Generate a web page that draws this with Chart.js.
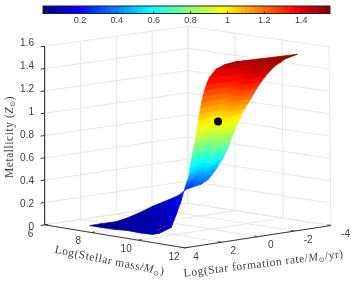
<!DOCTYPE html>
<html>
<head>
<meta charset="utf-8">
<title>Metallicity surface</title>
<script src="https://cdn.jsdelivr.net/npm/chart.js@4"></script>
<style>
    html, body { margin: 0; padding: 0; background: #fff; }
    #wrap { position: relative; width: 355px; height: 281px; overflow: hidden; }
    canvas { position: absolute; left: 0; top: 0; }
</style>
</head>
<body>
<div id="wrap">
    <canvas id="surfaceChart" width="355" height="281"></canvas>
    <canvas id="colorbar" width="355" height="30"></canvas>
</div>
<script>
// axis ticks
const massTicks = [6, 8, 10, 12];
const sfrTicks = [4, 2, 0, -2, -4];
const zTicks = [0, 0.2, 0.4, 0.6, 0.8, 1, 1.2, 1.4, 1.6];
const colorTicks = [0.2, 0.4, 0.6, 0.8, 1, 1.2, 1.4];
const colorMax = 1.556;

// surface: one row per metallicity level, two edges
const zLevels = [0.02, 0.03, 0.04, 0.05, 0.06, 0.07, 0.09, 0.12, 0.16, 0.20, 0.25, 0.30, 0.35, 0.40, 0.45, 0.50, 0.55, 0.60, 0.65, 0.70, 0.75, 0.80, 0.85, 0.90, 0.95, 1.00, 1.05, 1.10, 1.15, 1.20, 1.25, 1.30, 1.35, 1.40, 1.45, 1.48, 1.50, 1.54];
const edgeAMass = [7.33, 7.99, 8.70, 9.23, 9.97, 10.58, 10.89, 10.80, 9.79, 8.90, 8.02, 8.40, 8.78, 9.17, 9.55, 9.93, 10.30, 10.41, 10.53, 10.65, 10.76, 10.88, 11.00, 11.12, 11.11, 11.09, 10.95, 10.93, 10.92, 10.91, 10.90, 10.90, 10.91, 10.80, 10.51, 10.49, 10.62, 11.46];
const edgeASfr = [3.22, 3.43, 3.56, 3.60, 3.86, 3.96, 3.99, 3.21, 1.63, 0.24, -1.12, -0.67, -0.23, 0.22, 0.66, 1.11, 1.57, 1.68, 1.78, 1.88, 1.98, 2.08, 2.18, 2.28, 2.21, 2.14, 1.90, 1.82, 1.75, 1.68, 1.59, 1.51, 1.41, 1.11, 0.36, -0.16, -0.59, -2.95];
const edgeBMass = [7.33, 7.46, 7.65, 7.52, 7.20, 6.76, 6.65, 6.68, 7.15, 7.49, 7.91, 8.22, 8.46, 8.52, 8.57, 8.73, 8.89, 9.16, 9.43, 9.57, 9.70, 9.84, 9.98, 10.01, 9.90, 10.04, 10.20, 10.36, 10.52, 10.68, 10.83, 10.88, 11.06, 11.24, 11.21, 11.26, 11.25, 11.46];
const edgeBSfr = [3.22, 2.75, 2.18, 1.36, 0.25, -1.03, -1.83, -2.43, -1.98, -1.71, -1.32, -1.83, -1.90, -2.08, -2.24, -2.19, -2.15, -1.90, -1.66, -1.59, -1.51, -1.44, -1.37, -1.49, -1.79, -1.72, -1.68, -1.63, -1.59, -1.54, -1.50, -1.65, -1.63, -1.62, -2.03, -2.29, -2.52, -2.95];

// black marker and the small red streak on the floor
const markerPoint = { mass: 9.51, sfr: -1.06, z: 0.92 };
const streakMass = [10.59, 10.15];
const streakSfr = [3.75, 2.59];
const streakZ = [0.1, 0.1];

// pixel corners of the 3D box, floor and top
const floorCorners = { L: [41.5, 227.3], F: [185, 251], R: [334.5, 228], B: [188, 205] };
const topCorners = { L: [41.5, 43.5], F: [185.7, 64.5], R: [332.5, 44], B: [188.3, 23] };

const gridColor = '#e6e6e6';
const axisColor = '#3a3a3a';
const textColor = '#404040';

function project(mass, sfr, z) {
    const a = (mass - 6) / 6;
    const b = (4 - sfr) / 8;
    const c = z / 1.6;
    const at = (corners, i) =>
        (1 - a) * (1 - b) * corners.L[i] + a * (1 - b) * corners.F[i] +
        a * b * corners.R[i] + (1 - a) * b * corners.B[i];
    return {
        x: at(floorCorners, 0) * (1 - c) + at(topCorners, 0) * c,
        y: at(floorCorners, 1) * (1 - c) + at(topCorners, 1) * c
    };
}

// jet colormap
function jet(value) {
    const t = Math.min(1, Math.max(0, value / colorMax));
    const ch = x => Math.round(255 * Math.min(1, Math.max(0, 1.5 - Math.abs(4 * t - x))));
    return `rgb(${ch(3)},${ch(2)},${ch(1)})`;
}

const ctx = document.getElementById('surfaceChart').getContext('2d');
const layers = [];

function addLine(points, color, width) {
    layers.push({
        data: points, showLine: true, borderColor: color, borderWidth: width,
        pointRadius: 0, fill: false, tension: 0
    });
}

// back walls and floor grid
zTicks.forEach(z => {
    addLine([project(6, 4, z), project(6, -4, z), project(12, -4, z)], gridColor, 1);
});
massTicks.forEach(m => {
    addLine([project(m, 4, 0), project(m, -4, 0), project(m, -4, 1.6)], gridColor, 1);
});
sfrTicks.forEach(s => {
    addLine([project(12, s, 0), project(6, s, 0), project(6, s, 1.6)], gridColor, 1);
});

// dark axis lines and tick marks
addLine([project(6, 4, 1.6), project(6, 4, 0), project(12, 4, 0), project(12, -4, 0)], axisColor, 1);
zTicks.forEach(z => addLine([project(6, 4, z), project(6, 4.22, z)], axisColor, 1));
massTicks.forEach(m => addLine([project(m, 4, 0), project(m, 3.8, 0)], axisColor, 1));
sfrTicks.forEach(s => addLine([project(12, s, 0), project(11.85, s, 0)], axisColor, 1));

// surface quads between neighbouring levels
for (let i = 0; i < zLevels.length - 1; i++) {
    const z0 = zLevels[i];
    const z1 = zLevels[i + 1];
    const a0 = project(edgeAMass[i], edgeASfr[i], z0);
    const b0 = project(edgeBMass[i], edgeBSfr[i], z0);
    const a1 = project(edgeAMass[i + 1], edgeASfr[i + 1], z1);
    const b1 = project(edgeBMass[i + 1], edgeBSfr[i + 1], z1);
    const shade = ctx.createLinearGradient((a0.x + b0.x) / 2, (a0.y + b0.y) / 2, (a1.x + b1.x) / 2, (a1.y + b1.y) / 2);
    shade.addColorStop(0, jet(z0));
    shade.addColorStop(1, jet(z1));
    layers.push({
        data: [a0, a1, b1, b0, a0], showLine: true, fill: 'shape',
        backgroundColor: shade, borderColor: shade, borderWidth: 0.7,
        pointRadius: 0, tension: 0
    });
}

addLine(streakMass.map((m, i) => project(m, streakSfr[i], streakZ[i])), '#c02020', 0.7);

layers.push({
    data: [project(markerPoint.mass, markerPoint.sfr, markerPoint.z)],
    showLine: false, pointRadius: 4, pointBackgroundColor: '#000', pointBorderWidth: 0
});

// text on rotated baselines, runs of different fonts
function drawRuns(c, runs, cx, cy, angle) {
    c.save();
    c.translate(cx, cy);
    c.rotate(angle * Math.PI / 180);
    c.textAlign = 'left';
    c.textBaseline = 'alphabetic';
    c.fillStyle = textColor;
    c.letterSpacing = '0.55px';
    let total = 0;
    runs.forEach(r => { c.font = r.font; total += c.measureText(r.text).width; });
    let x = -total / 2;
    runs.forEach(r => {
        c.font = r.font;
        c.fillText(r.text, x, r.dy || 0);
        x += c.measureText(r.text).width;
    });
    c.restore();
}

const serif = '11.5px "Liberation Serif"';
const serifItalic = 'italic 11.5px "Liberation Serif"';
const serifSmall = '7px "DejaVu Sans"';

const labelsPlugin = {
    id: 'boxLabels',
    afterDraw(chart) {
        const c = chart.ctx;
        c.save();
        c.fillStyle = textColor;
        c.font = '10px "Liberation Sans"';
        c.textBaseline = 'middle';
        c.textAlign = 'right';
        zTicks.forEach(z => c.fillText(String(z), 34, project(6, 4, z).y));
        c.textAlign = 'center';
        massTicks.forEach(m => {
            const p = project(m, 4, 0);
            c.fillText(String(m), p.x - 11, p.y + 6.5);
        });
        sfrTicks.forEach(s => {
            const p = project(12, s, 0);
            c.fillText(String(s), p.x + 11, p.y + 6);
        });
        c.restore();

        drawRuns(c, [
            { text: 'Metallicity (', font: serif },
            { text: 'Z', font: serifItalic },
            { text: '⊙', font: serifSmall, dy: 2 },
            { text: ')', font: serif }
        ], 13, 137, -90);
        drawRuns(c, [
            { text: 'Log(Stellar mass/', font: serif },
            { text: 'M', font: serifItalic },
            { text: '⊙', font: serifSmall, dy: 2 },
            { text: ')', font: serif }
        ], 109, 264, 11.5);
        drawRuns(c, [
            { text: 'Log(Star formation rate/', font: serif },
            { text: 'M', font: serifItalic },
            { text: '⊙', font: serifSmall, dy: 2 },
            { text: '/yr)', font: serif }
        ], 264, 267, -7);
    }
};

new Chart(ctx, {
    type: 'scatter',
    data: { datasets: layers.reverse() },
    options: {
        responsive: false,
        animation: false,
        layout: { padding: 0 },
        plugins: { legend: { display: false }, tooltip: { enabled: false } },
        scales: {
            x: { type: 'linear', min: 0, max: 355, display: false },
            y: { type: 'linear', min: 0, max: 281, reverse: true, display: false }
        }
    },
    plugins: [labelsPlugin]
});

// colorbar on top
const colorSteps = 64;
const colorSegments = [];
for (let i = 0; i < colorSteps; i++) {
    colorSegments.push({
        data: [colorMax / colorSteps],
        backgroundColor: jet((i + 0.5) * colorMax / colorSteps),
        borderWidth: 0,
        barPercentage: 1,
        categoryPercentage: 1
    });
}

const colorbarFrame = {
    id: 'colorbarFrame',
    afterDatasetsDraw(chart) {
        const c = chart.ctx;
        const area = chart.chartArea;
        c.save();
        c.strokeStyle = '#222';
        c.lineWidth = 1;
        c.strokeRect(area.left, area.top, area.right - area.left, area.bottom - area.top);
        colorTicks.forEach(v => {
            const x = chart.scales.x.getPixelForValue(v);
            c.beginPath();
            c.moveTo(x, area.bottom);
            c.lineTo(x, area.bottom - 2);
            c.stroke();
        });
        c.restore();
    }
};

new Chart(document.getElementById('colorbar').getContext('2d'), {
    type: 'bar',
    data: { labels: ['Z'], datasets: colorSegments },
    options: {
        indexAxis: 'y',
        responsive: false,
        animation: false,
        layout: { padding: { left: 43, right: 25, top: 6, bottom: 0 } },
        plugins: { legend: { display: false }, tooltip: { enabled: false } },
        scales: {
            x: {
                type: 'linear', stacked: true, min: 0, max: colorMax, position: 'bottom',
                afterBuildTicks(axis) { axis.ticks = colorTicks.map(v => ({ value: v })); },
                afterFit(axis) { axis.height = 16.5; },
                grid: { display: false, drawTicks: false },
                border: { display: false },
                ticks: {
                    autoSkip: false, maxRotation: 0, padding: 2, color: textColor,
                    font: { family: 'Liberation Sans', size: 9 },
                    callback: v => String(v)
                }
            },
            y: { stacked: true, display: false }
        }
    },
    plugins: [colorbarFrame]
});
</script>
</body>
</html>
